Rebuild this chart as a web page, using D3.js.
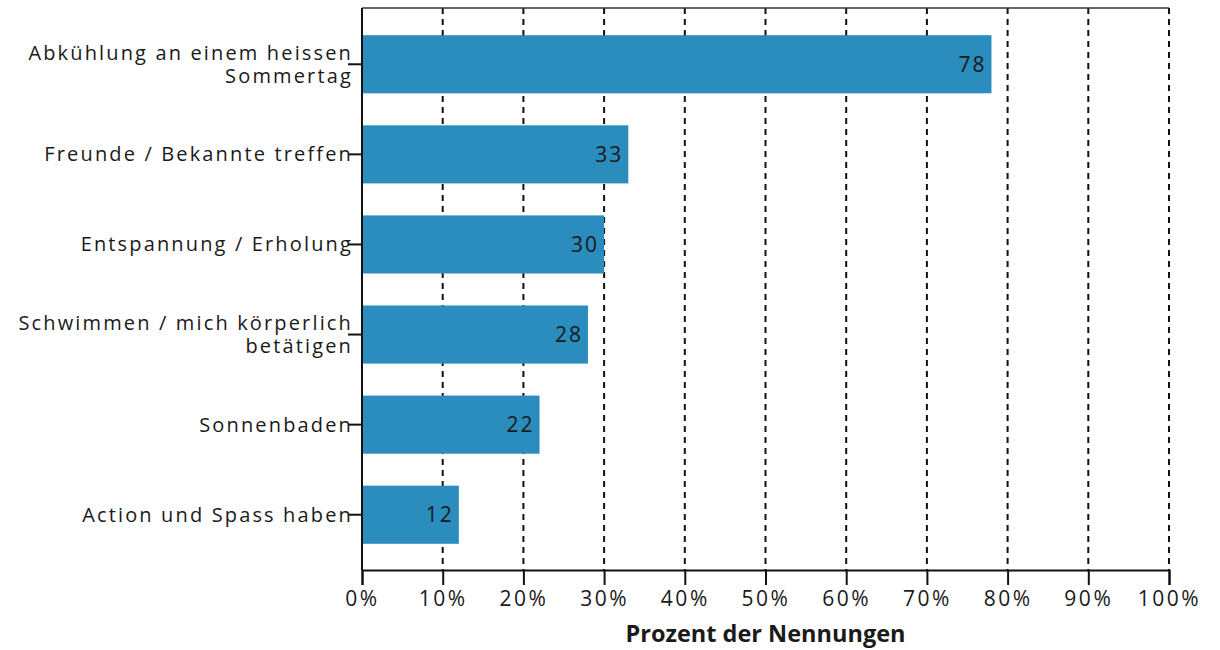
<!DOCTYPE html>
<html>
<head>
<meta charset="utf-8">
<script src="https://cdn.jsdelivr.net/npm/d3@7"></script>
<style>
    body { margin: 0; background: #ffffff; }
    text { font-family: "Open Sans", "DejaVu Sans", sans-serif; fill: #1a1a1a; }
</style>
</head>
<body>
<script>
// 数据
const categories = [
    ['Abkühlung an einem heissen', 'Sommertag'],
    ['Freunde / Bekannte treffen'],
    ['Entspannung / Erholung'],
    ['Schwimmen / mich körperlich', 'betätigen'],
    ['Sonnenbaden'],
    ['Action und Spass haben']
];
const values = [78, 33, 30, 28, 22, 12];
const xTicks = [0, 10, 20, 30, 40, 50, 60, 70, 80, 90, 100];
const xTitle = 'Prozent der Nennungen';

// 画布参数
let W = 1220, H = 650;
let plot = {left: 362, right: 1169, top: 8, bottom: 570};

let svg = d3.select('body')
    .append('svg')
    .attr('width', W)
    .attr('height', H);

let x = d3.scaleLinear()
    .domain([0, 100])
    .range([plot.left, plot.right]);
let y = d3.scaleBand()
    .domain(d3.range(categories.length))
    .range([19, 560])
    .paddingInner(0.355)
    .paddingOuter(0.18);

// 虚线网格
svg.append('g')
    .selectAll('line')
    .data(xTicks.filter(d => d > 0))
    .enter()
    .append('line')
    .attr('x1', d => x(d))
    .attr('x2', d => x(d))
    .attr('y1', plot.top)
    .attr('y2', plot.bottom)
    .attr('stroke', '#111')
    .attr('stroke-width', 2)
    .attr('stroke-dasharray', '6,5');

// 顶部边框
svg.append('line')
    .attr('x1', plot.left).attr('x2', plot.right)
    .attr('y1', plot.top).attr('y2', plot.top)
    .attr('stroke', '#333').attr('stroke-width', 1.5);

// 柱子
svg.append('g')
    .selectAll('rect')
    .data(values)
    .enter()
    .append('rect')
    .attr('x', x(0))
    .attr('y', (d, i) => y(i))
    .attr('width', d => x(d) - x(0))
    .attr('height', y.bandwidth())
    .attr('fill', '#2b8cbe');

// 数值标签
svg.append('g')
    .selectAll('text')
    .data(values)
    .enter()
    .append('text')
    .attr('x', d => x(d) - 5)
    .attr('y', (d, i) => y(i) + y.bandwidth() / 2)
    .attr('dy', '0.35em')
    .attr('text-anchor', 'end')
    .style('font-size', '21px')
    .style('letter-spacing', '2px')
    .text(d => d);

// x 轴
let xAxis = svg.append('g')
    .attr('transform', `translate(0,${plot.bottom})`)
    .call(d3.axisBottom(x).tickValues(xTicks).tickSize(15).tickFormat(d => d + '%'));
xAxis.select('.domain').attr('stroke', '#111').attr('stroke-width', 2);
xAxis.selectAll('.tick line').attr('stroke', '#111').attr('stroke-width', 2);
xAxis.selectAll('.tick text')
    .attr('y', 21)
    .attr('dy', '0.71em')
    .style('font-size', '21px')
    .style('letter-spacing', '2.5px')
    .style('font-family', '"Open Sans", sans-serif')
    .attr('fill', '#1a1a1a');

// y 轴
let yAxis = svg.append('g')
    .attr('transform', `translate(${plot.left},0)`)
    .call(d3.axisLeft(y).tickSize(14).tickFormat(''));
yAxis.select('.domain').remove();
yAxis.selectAll('.tick line').attr('stroke', '#111').attr('stroke-width', 2);
svg.append('line')
    .attr('x1', plot.left).attr('x2', plot.left)
    .attr('y1', plot.top).attr('y2', plot.bottom)
    .attr('stroke', '#111').attr('stroke-width', 2);

// 分类标签
let labels = svg.append('g')
    .selectAll('text')
    .data(categories)
    .enter()
    .append('text')
    .attr('text-anchor', 'end')
    .style('font-size', '20px')
    .style('letter-spacing', '2.15px')
    .attr('transform', (d, i) => `translate(${plot.left - 9},${y(i) + y.bandwidth() / 2})`);
labels.selectAll('tspan')
    .data(d => d.map((t, k) => ({t, k, n: d.length})))
    .enter()
    .append('tspan')
    .attr('x', 0)
    .attr('y', d => (d.k - (d.n - 1) / 2) * 23)
    .attr('dy', '0.35em')
    .text(d => d.t);

// 轴标题
svg.append('text')
    .attr('x', (plot.left + plot.right) / 2)
    .attr('y', 642)
    .attr('text-anchor', 'middle')
    .style('font-size', '23.5px')
    .style('font-weight', 'bold')
    .text(xTitle);
</script>
</body>
</html>
